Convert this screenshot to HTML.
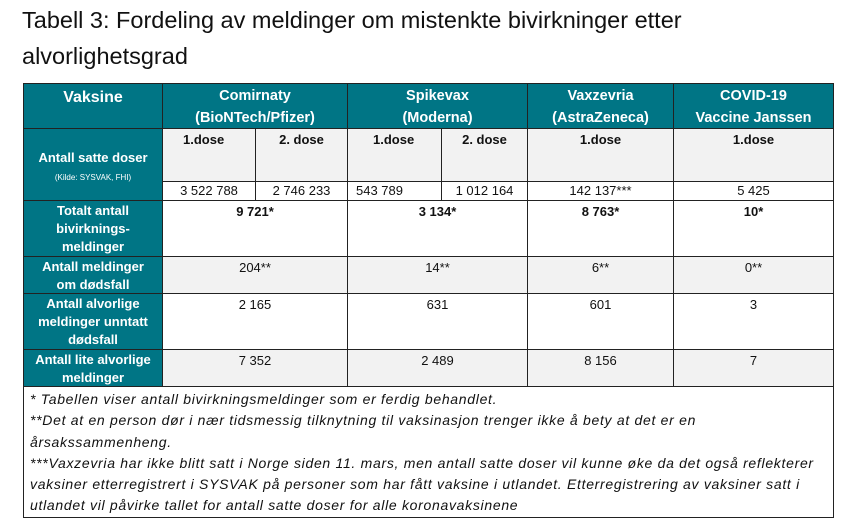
<!DOCTYPE html>
<html><head><meta charset="utf-8"><style>
body{margin:0;width:847px;height:520px;background:#fff;position:relative;overflow:hidden;font-family:"Liberation Sans",sans-serif}
.t{position:absolute;font-size:23.5px;color:#111;left:22px;white-space:nowrap}
.c{position:absolute;box-sizing:border-box;border:1px solid #222;text-align:center;font-size:13px;color:#111;padding-top:2px;line-height:18px}
.h{background:#007585;color:#fff;font-weight:bold}
.h.top{font-size:14.5px;line-height:22px;padding-top:1px}
.g{background:#f2f2f2}
.b{font-weight:bold}
.fn{position:absolute;left:23px;top:386px;width:811px;height:132px;box-sizing:border-box;border:1px solid #222;font-style:italic;font-size:14px;line-height:21.3px;padding:2px 6px;color:#111;letter-spacing:0.7px;white-space:nowrap}
</style></head><body>
<div class="t" style="top:7px">Tabell 3: Fordeling av meldinger om mistenkte bivirkninger etter</div>
<div class="t" style="top:43px">alvorlighetsgrad</div>

<div class="c h top" style="left:23px;top:83px;width:140px;height:46px;font-size:16px;padding-top:3px">Vaksine</div>
<div class="c h top" style="left:162px;top:83px;width:186px;height:46px">Comirnaty<br>(BioNTech/Pfizer)</div>
<div class="c h top" style="left:347px;top:83px;width:181px;height:46px">Spikevax<br>(Moderna)</div>
<div class="c h top" style="left:527px;top:83px;width:147px;height:46px">Vaxzevria<br>(AstraZeneca)</div>
<div class="c h top" style="left:673px;top:83px;width:161px;height:46px">COVID-19<br>Vaccine Janssen</div>

<div class="c h" style="left:23px;top:128px;width:140px;height:73px;padding-top:20px">Antall satte doser<br><span style="font-weight:normal;font-size:8px;line-height:12px">(Kilde: SYSVAK, FHI)</span></div>
<div class="c g b" style="left:162px;top:128px;width:94px;height:54px;text-align:left;padding-left:20px">1.dose</div>
<div class="c g b" style="left:255px;top:128px;width:93px;height:54px">2. dose</div>
<div class="c g b" style="left:347px;top:128px;width:95px;height:54px;text-align:left;padding-left:25px">1.dose</div>
<div class="c g b" style="left:441px;top:128px;width:87px;height:54px">2. dose</div>
<div class="c g b" style="left:527px;top:128px;width:147px;height:54px">1.dose</div>
<div class="c g b" style="left:673px;top:128px;width:161px;height:54px">1.dose</div>

<div class="c" style="left:162px;top:181px;width:94px;height:20px;padding-top:0px">3 522 788</div>
<div class="c" style="left:255px;top:181px;width:93px;height:20px;padding-top:0px">2 746 233</div>
<div class="c" style="left:347px;top:181px;width:95px;height:20px;padding-top:0px;text-align:left;padding-left:8px">543 789</div>
<div class="c" style="left:441px;top:181px;width:87px;height:20px;padding-top:0px">1 012 164</div>
<div class="c" style="left:527px;top:181px;width:147px;height:20px;padding-top:0px">142 137***</div>
<div class="c" style="left:673px;top:181px;width:161px;height:20px;padding-top:0px">5 425</div>

<div class="c h" style="left:23px;top:200px;width:140px;height:57px;padding-top:1px">Totalt antall<br>bivirknings-<br>meldinger</div>
<div class="c b" style="left:162px;top:200px;width:186px;height:57px">9 721*</div>
<div class="c b" style="left:347px;top:200px;width:181px;height:57px">3 134*</div>
<div class="c b" style="left:527px;top:200px;width:147px;height:57px">8 763*</div>
<div class="c b" style="left:673px;top:200px;width:161px;height:57px">10*</div>

<div class="c h" style="left:23px;top:256px;width:140px;height:38px;padding-top:1px">Antall meldinger<br>om dødsfall</div>
<div class="c g" style="left:162px;top:256px;width:186px;height:38px">204**</div>
<div class="c g" style="left:347px;top:256px;width:181px;height:38px">14**</div>
<div class="c g" style="left:527px;top:256px;width:147px;height:38px">6**</div>
<div class="c g" style="left:673px;top:256px;width:161px;height:38px">0**</div>

<div class="c h" style="left:23px;top:293px;width:140px;height:57px;padding-top:1px">Antall alvorlige<br>meldinger unntatt<br>dødsfall</div>
<div class="c" style="left:162px;top:293px;width:186px;height:57px">2 165</div>
<div class="c" style="left:347px;top:293px;width:181px;height:57px">631</div>
<div class="c" style="left:527px;top:293px;width:147px;height:57px">601</div>
<div class="c" style="left:673px;top:293px;width:161px;height:57px">3</div>

<div class="c h" style="left:23px;top:349px;width:140px;height:38px;padding-top:1px">Antall lite alvorlige<br>meldinger</div>
<div class="c g" style="left:162px;top:349px;width:186px;height:38px">7 352</div>
<div class="c g" style="left:347px;top:349px;width:181px;height:38px">2 489</div>
<div class="c g" style="left:527px;top:349px;width:147px;height:38px">8 156</div>
<div class="c g" style="left:673px;top:349px;width:161px;height:38px">7</div>

<div class="fn">
* Tabellen viser antall bivirkningsmeldinger som er ferdig behandlet.<br>
**Det at en person dør i nær tidsmessig tilknytning til vaksinasjon trenger ikke å bety at det er en<br>
årsakssammenheng.<br>
***Vaxzevria har ikke blitt satt i Norge siden 11. mars, men antall satte doser vil kunne øke da det også reflekterer<br>
vaksiner etterregistrert i SYSVAK på personer som har fått vaksine i utlandet. Etterregistrering av vaksiner satt i<br>
utlandet vil påvirke tallet for antall satte doser for alle koronavaksinene
</div>
</body></html>
